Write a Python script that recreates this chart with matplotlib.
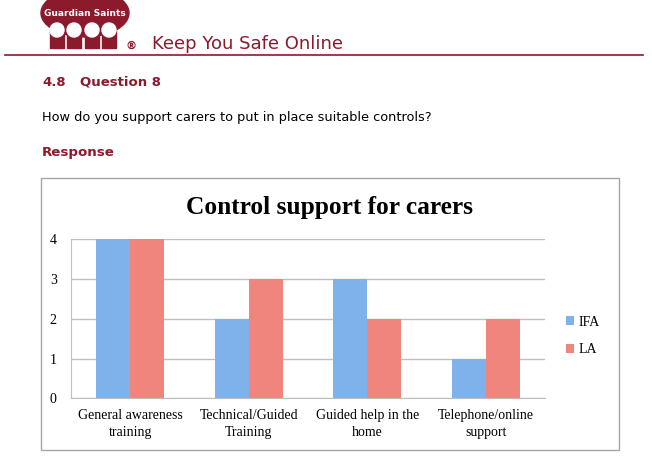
import numpy as np
import matplotlib.pyplot as plt
from matplotlib.patches import Ellipse, Circle, Rectangle

# chart data
categories = ["General awareness\ntraining", "Technical/Guided\nTraining",
              "Guided help in the\nhome", "Telephone/online\nsupport"]
ifa_values = [4, 2, 3, 1]
la_values = [4, 3, 2, 2]
series_names = ["IFA", "LA"]
y_ticks = [0, 1, 2, 3, 4]

MAROON = "#8B1A2C"
BLUE = "#7FB1EA"
RED = "#EF857D"
W, H = 652, 461

fig = plt.figure(figsize=(W / 100, H / 100), dpi=100)
fig.patch.set_facecolor("white")

# page layer in pixel coordinates
page = fig.add_axes([0, 0, 1, 1])
page.set_xlim(0, W)
page.set_ylim(H, 0)
page.axis("off")

# logo
page.add_patch(Ellipse((85, 13), 88, 48, color=MAROON, zorder=1))
for cx in [57, 74, 92, 109]:
    page.add_patch(Rectangle((cx - 7, 30), 14, 18, color=MAROON, zorder=1))
    page.add_patch(Circle((cx, 30), 7, color="white", zorder=2))
page.text(85, 14, "Guardian Saints", color="white", fontsize=6.5,
          ha="center", va="center", family="DejaVu Sans", fontweight="bold",
          zorder=3)
page.text(131, 46, "®", color=MAROON, fontsize=8, ha="center", va="center",
          fontweight="bold")

page.text(152, 44, "Keep You Safe Online", color=MAROON, fontsize=13,
          ha="left", va="center", family="DejaVu Sans")
page.plot([5, 643], [55, 55], color=MAROON, lw=1.2)

page.text(42, 82, "4.8", color=MAROON, fontsize=9.5,
          fontweight="bold", ha="left", va="center", family="DejaVu Sans")
page.text(80, 82, "Question 8", color=MAROON, fontsize=9.5,
          fontweight="bold", ha="left", va="center", family="DejaVu Sans")
page.text(42, 117, "How do you support carers to put in place suitable controls?",
          color="black", fontsize=9.3, ha="left", va="center", family="DejaVu Sans")
page.text(42, 152, "Response", color=MAROON, fontsize=9.6,
          fontweight="bold", ha="left", va="center", family="DejaVu Sans")

# chart frame
page.add_patch(Rectangle((41, 178), 578, 272, fill=False, ec="#A6A6A6", lw=1))
page.text(330, 207, "Control support for carers", fontsize=18.3, fontweight="bold",
          ha="center", va="center", family="Liberation Serif")

# chart
ax = fig.add_axes([70.7 / W, (H - 398.3) / H, 474.6 / W, 159 / H])
x = np.arange(len(categories))
bw = 0.286
ax.bar(x - bw / 2, ifa_values, bw, color=BLUE, label=series_names[0], zorder=3)
ax.bar(x + bw / 2, la_values, bw, color=RED, label=series_names[1], zorder=3)
ax.set_xlim(-0.5, len(categories) - 0.5)
ax.set_ylim(0, 4)
ax.set_yticks(y_ticks)
ax.yaxis.grid(True, color="#BFBFBF", lw=1, zorder=0)
ax.set_xticks(x)
ax.set_xticklabels(categories, family="Liberation Serif", fontsize=10,
                   linespacing=1.35)
for lab in ax.get_yticklabels():
    lab.set_family("Liberation Serif")
    lab.set_fontsize(10)
ax.tick_params(length=0)
ax.tick_params(axis="x", pad=8)
ax.tick_params(axis="y", pad=10)
for s in ["top", "right"]:
    ax.spines[s].set_visible(False)
ax.spines["left"].set_color("#BFBFBF")
ax.spines["bottom"].set_color("#BFBFBF")
ax.legend(loc="center left", bbox_to_anchor=(566 / W, 1 - 336 / H),
          bbox_transform=fig.transFigure, frameon=False,
          prop={"family": "Liberation Serif", "size": 10},
          handlelength=0.6, handleheight=0.6, handletextpad=0.3,
          labelspacing=1.05, borderaxespad=0, borderpad=0)

fig.savefig("out.png", dpi=100)
